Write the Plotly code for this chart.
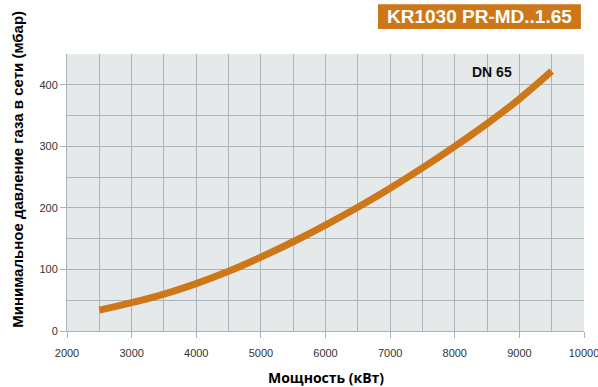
import plotly.graph_objects as go

power_kw = [2500, 3000, 3500, 4000, 4500, 5000, 5500, 6000, 6500, 7000, 7500, 8000, 8500, 9000, 9500]
pressure_mbar = [34, 46, 60, 77, 97, 120, 145, 172, 201, 232, 265, 300, 337, 377, 422]

series_label = "DN 65"
title_text = "KR1030 PR-MD..1.65"
x_title = "Мощность (кВт)"
y_title = "Минимальное давление газа в сети (мбар)"

orange = "#cd7719"
grid = "#a9b4bb"

fig = go.Figure()
fig.add_trace(go.Scatter(x=power_kw, y=pressure_mbar, mode="lines",
                         line=dict(color=orange, width=7, shape="spline"),
                         showlegend=False, hoverinfo="skip"))

fig.add_annotation(x=8570, y=420, text="<b>" + series_label + "</b>", showarrow=False,
                   font=dict(family="Liberation Sans, Arial", size=14, color="#111"))

fig.add_annotation(xref="paper", yref="paper", x=0.5, y=0, yshift=-46, yanchor="middle",
                   text="<b>" + x_title + "</b>", showarrow=False,
                   font=dict(family="Open Sans, Liberation Sans", size=14, color="#000"))
fig.add_annotation(xref="paper", yref="paper", x=0, xshift=-49, xanchor="center", y=0.582,
                   yanchor="middle",
                   text="<b>" + y_title + "</b>", textangle=-90, showarrow=False,
                   font=dict(family="Liberation Sans, Arial", size=15, color="#000"))

# Title box
fig.add_shape(type="rect", xref="paper", yref="paper", x0=0.6015, x1=0.994, y0=1.09, y1=1.18,
              fillcolor=orange, line=dict(width=0), layer="above")
fig.add_annotation(xref="paper", yref="paper", x=0.7975, y=1.135, xanchor="center", yanchor="middle",
                   text="<b>" + title_text + "</b>", showarrow=False,
                   font=dict(family="Liberation Sans, Arial", size=19, color="white"))

fig.update_layout(
    width=598, height=387,
    margin=dict(l=67, r=14, t=54, b=56),
    paper_bgcolor="white", plot_bgcolor="#e6e9ea",
    font=dict(family="Liberation Sans, Arial", size=11, color="#333"),
    xaxis=dict(range=[2000, 10000], dtick=1000, tick0=2000, tickformat="d",
               showgrid=True, gridcolor=grid, gridwidth=1,
               minor=dict(dtick=500, showgrid=True, gridcolor=grid, gridwidth=1),
               ticks="outside", ticklen=6, tickcolor=grid, showline=True, linecolor=grid,
               zeroline=False, fixedrange=True, ticklabelstandoff=6,
               ticklabeloverflow="allow", automargin=False),
    yaxis=dict(range=[0, 450], dtick=100, tick0=0, showgrid=True, gridcolor=grid, gridwidth=1,
               minor=dict(dtick=50, showgrid=True, gridcolor=grid, gridwidth=1),
               ticks="outside", ticklen=6, tickcolor=grid, showline=True, linecolor=grid,
               zeroline=False, fixedrange=True, automargin=False),
)

fig.write_html("out.html", config={"displayModeBar": False},
               post_script="document.body.style.margin='0';")
